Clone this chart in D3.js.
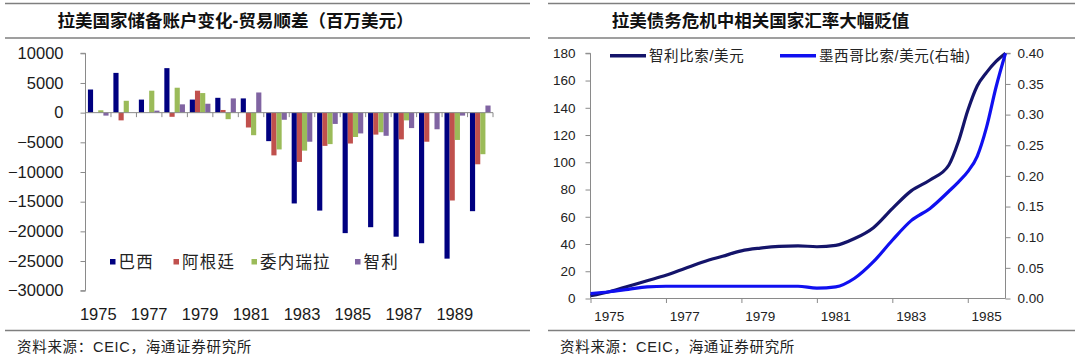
<!DOCTYPE html>
<html><head><meta charset="utf-8">
<script src="https://cdn.jsdelivr.net/npm/d3@7"></script>
<style>
body{margin:0;background:#fff}
text{font-family:"Liberation Sans",Arial,"Noto Sans CJK SC",sans-serif}
.cjk{font-family:"Liberation Sans","Noto Sans CJK SC",sans-serif}
</style>
</head><body><svg id="c" width="1080" height="361"></svg>
<script>
// ---------- Left chart data ----------
const barYears = ["1975","1976","1977","1978","1979","1980","1981","1982","1983","1984","1985","1986","1987","1988","1989","1990"];
const barLabelYears = ["1975","1977","1979","1981","1983","1985","1987","1989"];
const barSeriesNames = ["巴西","阿根廷","委内瑞拉","智利"];
const brazil    = [3900, 6700, 2200, 7500, 2200, 2500, 2400, -4800, -15300, -16500, -20300, -19300, -20900, -22000, -24600, -16600];
const argentina = [0, -1300, 0, -700, 3700, 450, -2500, -7200, -8300, -5600, -5200, -3700, -4500, -4900, -14800, -8700];
const venezuela = [400, 2000, 3700, 4200, 3300, -1100, -3800, -6200, -6400, -5300, -4100, -3300, -1300, 0, -4600, -7000];
const chileBal  = [-500, 0, 340, 1400, 1500, 2400, 3400, -1200, -4900, -1900, -3500, -3900, -2600, -2800, -500, 1200];
const barYTicks = [10000, 5000, 0, -5000, -10000, -15000, -20000, -25000, -30000];
const barColors = ["#000080", "#C0504D", "#9BBB59", "#8064A2"];

// ---------- Right chart data ----------
const fxDates = [1975, 1975.5, 1976, 1976.5, 1977, 1977.5, 1978, 1978.5, 1979, 1979.5, 1980, 1980.5, 1981, 1981.5, 1982, 1982.5, 1983, 1983.5, 1984, 1984.5, 1984.75, 1985, 1985.25, 1985.5, 1985.75, 1986];
const chilePeso  = [2, 5, 9, 13, 17, 22, 27, 31, 35, 37, 38.3, 38.7, 38, 39, 44, 52, 66, 79, 87, 98, 115, 138, 156, 166, 174, 180];
const mexicoPeso = [0.008, 0.011, 0.015, 0.019, 0.020, 0.020, 0.020, 0.020, 0.020, 0.020, 0.020, 0.020, 0.017, 0.019, 0.033, 0.060, 0.095, 0.127, 0.147, 0.175, 0.190, 0.207, 0.232, 0.280, 0.345, 0.400];
const fxTickYears = [1975, 1977, 1979, 1981, 1983, 1985];
const fxLeftTicks = [0, 20, 40, 60, 80, 100, 120, 140, 160, 180];
const fxRightTicks = [0, 0.05, 0.10, 0.15, 0.20, 0.25, 0.30, 0.35, 0.40];
const fxSeriesNames = ["智利比索/美元", "墨西哥比索/美元(右轴)"];
const fxColors = ["#14146a", "#1010f0"];

const svg = d3.select("#c");
const gray = "#8a8a8a";
const txt = "#1a1a1a";

// ---------- Frames ----------
function frame(x1, x2, title, tcx) {
  svg.append("line").attr("x1", x1).attr("x2", x2).attr("y1", 3.5).attr("y2", 3.5).attr("stroke", "#7f7f7f").attr("stroke-width", 1.6);
  svg.append("line").attr("x1", x1).attr("x2", x2).attr("y1", 38).attr("y2", 38).attr("stroke", "#7f7f7f").attr("stroke-width", 1.6);
  svg.append("line").attr("x1", x1).attr("x2", x2).attr("y1", 330.5).attr("y2", 330.5).attr("stroke", "#7f7f7f").attr("stroke-width", 1.6);
  svg.append("text").attr("class", "cjk").attr("x", tcx).attr("y", 21).attr("text-anchor", "middle")
    .attr("dominant-baseline", "central").attr("font-size", 17.5).attr("font-weight", "bold").attr("fill", "#111").text(title);
  svg.append("text").attr("class", "cjk").attr("x", x1 + 12).attr("y", 347).attr("dominant-baseline", "central")
    .attr("font-size", 14.5).attr("letter-spacing", 0.7).attr("fill", "#222").text("资料来源：CEIC，海通证券研究所");
}
frame(5, 530, "拉美国家储备账户变化-贸易顺差（百万美元）", 235.5);
frame(548, 1075, "拉美债务危机中相关国家汇率大幅贬值", 760.5);

// ---------- Left chart ----------
{
  const x0 = d3.scaleBand().domain(barYears).range([85.5, 493]).paddingInner(0.19).paddingOuter(0.095);
  const x1 = d3.scaleBand().domain(d3.range(4)).range([0, x0.bandwidth()]);
  const y = d3.scaleLinear().domain([-30000, 10000]).range([290.7, 53.3]);
  const series = [brazil, argentina, venezuela, chileBal];
  const g = svg.append("g");

  series.forEach((vals, si) => {
    g.append("g").selectAll("rect").data(vals).join("rect")
      .attr("x", (d, i) => x0(barYears[i]) + x1(si))
      .attr("width", x1.bandwidth())
      .attr("y", d => y(Math.max(0, d)))
      .attr("height", d => Math.abs(y(d) - y(0)))
      .attr("fill", barColors[si]);
  });

  // y axis
  const ya = g.append("g").attr("transform", "translate(85.5,0)")
    .call(d3.axisLeft(y).tickValues(barYTicks).tickSize(5).tickPadding(17).tickFormat(d3.format("d")));
  ya.select(".domain").attr("stroke", gray).attr("d", `M-5,${y(10000)}H0V${y(-30000)}H-5`);
  ya.selectAll(".tick line").attr("stroke", gray);
  ya.selectAll(".tick text").attr("font-size", 16.5).attr("fill", txt).attr("font-family", "Liberation Sans, Arial");

  // x axis line at zero with boundary ticks
  const step = x0.step();
  const r0 = x0.range()[0];
  const bounds = d3.range(barYears.length + 1).map(i => r0 + i * step);
  g.append("line").attr("x1", r0).attr("x2", x0.range()[1]).attr("y1", y(0)).attr("y2", y(0)).attr("stroke", gray);
  g.append("g").selectAll("line").data(bounds).join("line")
    .attr("x1", d => d).attr("x2", d => d).attr("y1", y(0)).attr("y2", y(0) + 4.5).attr("stroke", gray);
  g.append("g").selectAll("text").data(barLabelYears).join("text")
    .attr("x", d => x0(d) + x0.bandwidth() / 2).attr("y", 313.5)
    .attr("text-anchor", "middle").attr("dominant-baseline", "central")
    .attr("font-size", 16.5).attr("fill", txt).text(d => d);

  // legend
  const legX = [110, 173.5, 251.5, 355];
  const leg = g.append("g");
  barSeriesNames.forEach((n, i) => {
    leg.append("rect").attr("x", legX[i]).attr("y", 259).attr("width", 5.5).attr("height", 5.5).attr("fill", barColors[i]);
    leg.append("text").attr("class", "cjk").attr("x", legX[i] + 8.5).attr("y", 262)
      .attr("dominant-baseline", "central").attr("font-size", 16.5).attr("letter-spacing", 1.2)
      .attr("fill", "#222").text(n);
  });
}

// ---------- Right chart ----------
{
  const x = d3.scaleLinear().domain([1975, 1986]).range([590.5, 1005.5]);
  const yL = d3.scaleLinear().domain([0, 180]).range([298.5, 53.3]);
  const yR = d3.scaleLinear().domain([0, 0.40]).range([298.5, 53.3]);
  const g = svg.append("g");

  // left axis
  const la = g.append("g").attr("transform", "translate(590.5,0)")
    .call(d3.axisLeft(yL).tickValues(fxLeftTicks).tickSize(5).tickPadding(10));
  la.select(".domain").attr("stroke", gray).attr("d", `M-5,${yL(180)}H0V${yL(0)}`);
  la.selectAll(".tick line").attr("stroke", gray);
  la.selectAll(".tick text").attr("font-size", 13.5).attr("fill", "#222");

  // right axis
  const ra = g.append("g").attr("transform", "translate(1005.5,0)")
    .call(d3.axisRight(yR).tickValues(fxRightTicks).tickSize(5).tickPadding(7).tickFormat(d3.format(".2f")));
  ra.select(".domain").attr("stroke", gray).attr("d", `M5,${yR(0.40)}H0V${yR(0)}`);
  ra.selectAll(".tick line").attr("stroke", gray);
  ra.selectAll(".tick text").attr("font-size", 13.5).attr("fill", "#222");

  // bottom axis
  const ba = g.append("g").attr("transform", `translate(0,${yL(0)})`)
    .call(d3.axisBottom(x).tickValues(fxTickYears).tickSize(4.5).tickFormat(""));
  ba.select(".domain").attr("stroke", gray).attr("d", `M${x(1975)},0H${x(1986)}`);
  ba.selectAll(".tick line").attr("stroke", gray);
  g.append("g").selectAll("text").data(fxTickYears).join("text")
    .attr("x", d => x(d + 0.5)).attr("y", 316.5).attr("text-anchor", "middle").attr("dominant-baseline", "central")
    .attr("font-size", 13.5).attr("fill", "#222").text(d => d);

  const lineL = d3.line().x((d, i) => x(fxDates[i])).y(d => yL(d)).curve(d3.curveMonotoneX);
  const lineR = d3.line().x((d, i) => x(fxDates[i])).y(d => yR(d)).curve(d3.curveMonotoneX);
  g.append("path").datum(chilePeso).attr("d", lineL).attr("fill", "none").attr("stroke", fxColors[0]).attr("stroke-width", 3.2).attr("stroke-linejoin", "round");
  g.append("path").datum(mexicoPeso).attr("d", lineR).attr("fill", "none").attr("stroke", fxColors[1]).attr("stroke-width", 3.2).attr("stroke-linejoin", "round");

  // legend
  const lx = [610, 780];
  fxSeriesNames.forEach((n, i) => {
    g.append("line").attr("x1", lx[i]).attr("x2", lx[i] + 36).attr("y1", 55.7).attr("y2", 55.7)
      .attr("stroke", fxColors[i]).attr("stroke-width", 3.5);
    g.append("text").attr("class", "cjk").attr("x", lx[i] + 39).attr("y", 56).attr("dominant-baseline", "central")
      .attr("font-size", 14.5).attr("letter-spacing", 0.6).attr("fill", "#222").text(n);
  });
}
</script>
</body></html>
